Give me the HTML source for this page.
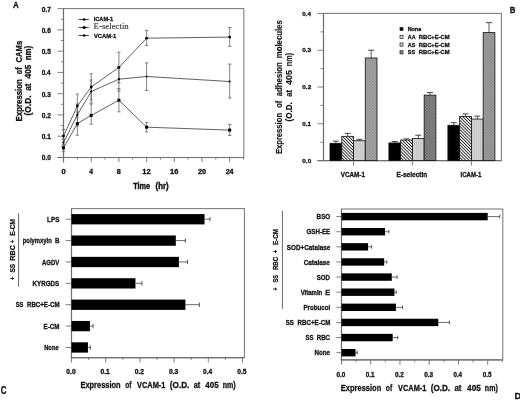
<!DOCTYPE html>
<html><head><meta charset="utf-8"><style>
html,body{margin:0;padding:0;background:#fff;}
body{width:520px;height:400px;overflow:hidden;}
svg{display:block;will-change:transform;}
</style></head><body>
<svg width="520" height="400" viewBox="0 0 520 400">
<g>
<rect width="520" height="400" fill="#fff"/>
<defs>
<pattern id="hatch" patternUnits="userSpaceOnUse" width="2.2" height="2.2" patternTransform="rotate(-45)">
<rect width="2.2" height="2.2" fill="#fff"/><rect width="0.9" height="2.2" fill="#222"/></pattern>
<pattern id="stip" patternUnits="userSpaceOnUse" width="2" height="2">
<rect width="2" height="2" fill="#d2d2d2"/><rect width="1" height="2" fill="#c8c8c8"/></pattern>
<pattern id="crossV" patternUnits="userSpaceOnUse" width="3" height="3">
<rect width="3" height="3" fill="#a2a2a2"/><rect width="1.5" height="1.5" fill="#939393"/><rect x="1.5" y="1.5" width="1.5" height="1.5" fill="#979797"/></pattern>
<pattern id="crossE" patternUnits="userSpaceOnUse" width="3" height="3">
<rect width="3" height="3" fill="#848484"/><rect width="1.5" height="1.5" fill="#6c6c6c"/><rect x="1.5" y="1.5" width="1.5" height="1.5" fill="#747474"/></pattern>
<pattern id="crossI" patternUnits="userSpaceOnUse" width="3" height="3">
<rect width="3" height="3" fill="#9e9e9e"/><rect width="1.5" height="1.5" fill="#888"/><rect x="1.5" y="1.5" width="1.5" height="1.5" fill="#8e8e8e"/></pattern>
</defs>
<text x="12.90" y="7.60" font-family="'Liberation Sans', sans-serif" font-size="9.6" font-weight="bold" fill="#141414" stroke="#141414" stroke-width="0.3" textLength="5.71" lengthAdjust="spacingAndGlyphs">A</text>
<rect x="63.5" y="8.6" width="180.3" height="148.9" fill="none" stroke="#7a7a7a" stroke-width="1.05"/>
<line x1="63.50" y1="8.60" x2="63.50" y2="162.50" stroke="#707070" stroke-width="1.2"/>
<line x1="57.60" y1="157.50" x2="243.80" y2="157.50" stroke="#707070" stroke-width="1.2"/>
<line x1="57.60" y1="157.50" x2="63.50" y2="157.50" stroke="#707070" stroke-width="0.9"/>
<text x="41.74" y="160.40" font-family="'Liberation Sans', sans-serif" font-size="6.4" font-weight="bold" fill="#141414" stroke="#141414" stroke-width="0.3" textLength="9.13" lengthAdjust="spacingAndGlyphs">0.0</text>
<line x1="57.60" y1="136.23" x2="63.50" y2="136.23" stroke="#707070" stroke-width="0.9"/>
<text x="41.74" y="139.13" font-family="'Liberation Sans', sans-serif" font-size="6.4" font-weight="bold" fill="#141414" stroke="#141414" stroke-width="0.3" textLength="9.02" lengthAdjust="spacingAndGlyphs">0.1</text>
<line x1="57.60" y1="114.96" x2="63.50" y2="114.96" stroke="#707070" stroke-width="0.9"/>
<text x="41.74" y="117.86" font-family="'Liberation Sans', sans-serif" font-size="6.4" font-weight="bold" fill="#141414" stroke="#141414" stroke-width="0.3" textLength="9.13" lengthAdjust="spacingAndGlyphs">0.2</text>
<line x1="57.60" y1="93.69" x2="63.50" y2="93.69" stroke="#707070" stroke-width="0.9"/>
<text x="41.74" y="96.59" font-family="'Liberation Sans', sans-serif" font-size="6.4" font-weight="bold" fill="#141414" stroke="#141414" stroke-width="0.3" textLength="9.09" lengthAdjust="spacingAndGlyphs">0.3</text>
<line x1="57.60" y1="72.42" x2="63.50" y2="72.42" stroke="#707070" stroke-width="0.9"/>
<text x="41.74" y="75.32" font-family="'Liberation Sans', sans-serif" font-size="6.4" font-weight="bold" fill="#141414" stroke="#141414" stroke-width="0.3" textLength="8.89" lengthAdjust="spacingAndGlyphs">0.4</text>
<line x1="57.60" y1="51.15" x2="63.50" y2="51.15" stroke="#707070" stroke-width="0.9"/>
<text x="41.74" y="54.05" font-family="'Liberation Sans', sans-serif" font-size="6.4" font-weight="bold" fill="#141414" stroke="#141414" stroke-width="0.3" textLength="9.02" lengthAdjust="spacingAndGlyphs">0.5</text>
<line x1="57.60" y1="29.88" x2="63.50" y2="29.88" stroke="#707070" stroke-width="0.9"/>
<text x="41.74" y="32.78" font-family="'Liberation Sans', sans-serif" font-size="6.4" font-weight="bold" fill="#141414" stroke="#141414" stroke-width="0.3" textLength="9.09" lengthAdjust="spacingAndGlyphs">0.6</text>
<line x1="57.60" y1="8.61" x2="63.50" y2="8.61" stroke="#707070" stroke-width="0.9"/>
<text x="41.74" y="11.51" font-family="'Liberation Sans', sans-serif" font-size="6.4" font-weight="bold" fill="#141414" stroke="#141414" stroke-width="0.3" textLength="9.16" lengthAdjust="spacingAndGlyphs">0.7</text>
<line x1="60.80" y1="146.87" x2="63.50" y2="146.87" stroke="#707070" stroke-width="0.8"/>
<line x1="60.80" y1="125.59" x2="63.50" y2="125.59" stroke="#707070" stroke-width="0.8"/>
<line x1="60.80" y1="104.33" x2="63.50" y2="104.33" stroke="#707070" stroke-width="0.8"/>
<line x1="60.80" y1="83.06" x2="63.50" y2="83.06" stroke="#707070" stroke-width="0.8"/>
<line x1="60.80" y1="61.78" x2="63.50" y2="61.78" stroke="#707070" stroke-width="0.8"/>
<line x1="60.80" y1="40.52" x2="63.50" y2="40.52" stroke="#707070" stroke-width="0.8"/>
<line x1="60.80" y1="19.25" x2="63.50" y2="19.25" stroke="#707070" stroke-width="0.8"/>
<line x1="63.50" y1="157.50" x2="63.50" y2="162.10" stroke="#707070" stroke-width="0.9"/>
<text x="61.40" y="174.00" font-family="'Liberation Sans', sans-serif" font-size="6.6" font-weight="bold" fill="#141414" stroke="#141414" stroke-width="0.3" textLength="4.22" lengthAdjust="spacingAndGlyphs">0</text>
<line x1="77.35" y1="157.50" x2="77.35" y2="159.70" stroke="#707070" stroke-width="0.8"/>
<line x1="91.20" y1="157.50" x2="91.20" y2="162.10" stroke="#707070" stroke-width="0.9"/>
<text x="89.30" y="174.00" font-family="'Liberation Sans', sans-serif" font-size="6.6" font-weight="bold" fill="#141414" stroke="#141414" stroke-width="0.3" textLength="3.74" lengthAdjust="spacingAndGlyphs">4</text>
<line x1="105.05" y1="157.50" x2="105.05" y2="159.70" stroke="#707070" stroke-width="0.8"/>
<line x1="118.90" y1="157.50" x2="118.90" y2="162.10" stroke="#707070" stroke-width="0.9"/>
<text x="116.88" y="174.00" font-family="'Liberation Sans', sans-serif" font-size="6.6" font-weight="bold" fill="#141414" stroke="#141414" stroke-width="0.3" textLength="4.04" lengthAdjust="spacingAndGlyphs">8</text>
<line x1="132.75" y1="157.50" x2="132.75" y2="159.70" stroke="#707070" stroke-width="0.8"/>
<line x1="146.60" y1="157.50" x2="146.60" y2="162.10" stroke="#707070" stroke-width="0.9"/>
<text x="142.31" y="174.00" font-family="'Liberation Sans', sans-serif" font-size="6.6" font-weight="bold" fill="#141414" stroke="#141414" stroke-width="0.3" textLength="8.41" lengthAdjust="spacingAndGlyphs">12</text>
<line x1="160.45" y1="157.50" x2="160.45" y2="159.70" stroke="#707070" stroke-width="0.8"/>
<line x1="174.30" y1="157.50" x2="174.30" y2="162.10" stroke="#707070" stroke-width="0.9"/>
<text x="170.01" y="174.00" font-family="'Liberation Sans', sans-serif" font-size="6.6" font-weight="bold" fill="#141414" stroke="#141414" stroke-width="0.3" textLength="8.37" lengthAdjust="spacingAndGlyphs">16</text>
<line x1="188.15" y1="157.50" x2="188.15" y2="159.70" stroke="#707070" stroke-width="0.8"/>
<line x1="202.00" y1="157.50" x2="202.00" y2="162.10" stroke="#707070" stroke-width="0.9"/>
<text x="197.94" y="174.00" font-family="'Liberation Sans', sans-serif" font-size="6.6" font-weight="bold" fill="#141414" stroke="#141414" stroke-width="0.3" textLength="8.17" lengthAdjust="spacingAndGlyphs">20</text>
<line x1="215.85" y1="157.50" x2="215.85" y2="159.70" stroke="#707070" stroke-width="0.8"/>
<line x1="229.70" y1="157.50" x2="229.70" y2="162.10" stroke="#707070" stroke-width="0.9"/>
<text x="225.65" y="174.00" font-family="'Liberation Sans', sans-serif" font-size="6.6" font-weight="bold" fill="#141414" stroke="#141414" stroke-width="0.3" textLength="7.90" lengthAdjust="spacingAndGlyphs">24</text>
<line x1="243.55" y1="157.50" x2="243.55" y2="159.70" stroke="#707070" stroke-width="0.8"/>
<text x="133.13" y="188.60" font-family="'Liberation Sans', sans-serif" font-size="8.6" font-weight="bold" fill="#141414" stroke="#141414" stroke-width="0.42" textLength="16.94" lengthAdjust="spacingAndGlyphs">Time</text>
<text x="155.61" y="188.60" font-family="'Liberation Sans', sans-serif" font-size="8.6" font-weight="bold" fill="#141414" stroke="#141414" stroke-width="0.42" textLength="13.05" lengthAdjust="spacingAndGlyphs">(hr)</text>
<text transform="translate(21.60,121.41) rotate(-90)" font-family="'Liberation Sans', sans-serif" font-size="8.4" font-weight="bold" fill="#141414" stroke="#141414" stroke-width="0.3" textLength="42.29" lengthAdjust="spacingAndGlyphs">Expression</text>
<text transform="translate(21.60,74.19) rotate(-90)" font-family="'Liberation Sans', sans-serif" font-size="8.4" font-weight="bold" fill="#141414" stroke="#141414" stroke-width="0.3" textLength="6.78" lengthAdjust="spacingAndGlyphs">of</text>
<text transform="translate(21.60,62.51) rotate(-90)" font-family="'Liberation Sans', sans-serif" font-size="8.4" font-weight="bold" fill="#141414" stroke="#141414" stroke-width="0.3" textLength="21.64" lengthAdjust="spacingAndGlyphs">CAMs</text>
<text transform="translate(30.90,115.42) rotate(-90)" font-family="'Liberation Sans', sans-serif" font-size="8.4" font-weight="bold" fill="#141414" stroke="#141414" stroke-width="0.3" textLength="19.99" lengthAdjust="spacingAndGlyphs">(O.D.</text>
<text transform="translate(30.90,90.85) rotate(-90)" font-family="'Liberation Sans', sans-serif" font-size="8.4" font-weight="bold" fill="#141414" stroke="#141414" stroke-width="0.3" textLength="7.37" lengthAdjust="spacingAndGlyphs">at</text>
<text transform="translate(30.90,78.42) rotate(-90)" font-family="'Liberation Sans', sans-serif" font-size="8.4" font-weight="bold" fill="#141414" stroke="#141414" stroke-width="0.3" textLength="13.66" lengthAdjust="spacingAndGlyphs">405</text>
<text transform="translate(30.90,60.31) rotate(-90)" font-family="'Liberation Sans', sans-serif" font-size="8.4" font-weight="bold" fill="#141414" stroke="#141414" stroke-width="0.3" textLength="14.49" lengthAdjust="spacingAndGlyphs">nm)</text>
<line x1="63.50" y1="129.50" x2="63.50" y2="139.00" stroke="#666" stroke-width="0.8"/>
<line x1="61.80" y1="129.50" x2="65.20" y2="129.50" stroke="#666" stroke-width="0.8"/>
<line x1="61.80" y1="139.00" x2="65.20" y2="139.00" stroke="#666" stroke-width="0.8"/>
<line x1="77.35" y1="94.20" x2="77.35" y2="117.00" stroke="#666" stroke-width="0.8"/>
<line x1="75.65" y1="94.20" x2="79.05" y2="94.20" stroke="#666" stroke-width="0.8"/>
<line x1="75.65" y1="117.00" x2="79.05" y2="117.00" stroke="#666" stroke-width="0.8"/>
<line x1="91.20" y1="73.80" x2="91.20" y2="100.00" stroke="#666" stroke-width="0.8"/>
<line x1="89.50" y1="73.80" x2="92.90" y2="73.80" stroke="#666" stroke-width="0.8"/>
<line x1="89.50" y1="100.00" x2="92.90" y2="100.00" stroke="#666" stroke-width="0.8"/>
<line x1="118.90" y1="52.20" x2="118.90" y2="83.00" stroke="#666" stroke-width="0.8"/>
<line x1="117.20" y1="52.20" x2="120.60" y2="52.20" stroke="#666" stroke-width="0.8"/>
<line x1="117.20" y1="83.00" x2="120.60" y2="83.00" stroke="#666" stroke-width="0.8"/>
<line x1="146.60" y1="30.50" x2="146.60" y2="45.50" stroke="#666" stroke-width="0.8"/>
<line x1="144.90" y1="30.50" x2="148.30" y2="30.50" stroke="#666" stroke-width="0.8"/>
<line x1="144.90" y1="45.50" x2="148.30" y2="45.50" stroke="#666" stroke-width="0.8"/>
<line x1="229.70" y1="27.50" x2="229.70" y2="46.40" stroke="#666" stroke-width="0.8"/>
<line x1="228.00" y1="27.50" x2="231.40" y2="27.50" stroke="#666" stroke-width="0.8"/>
<line x1="228.00" y1="46.40" x2="231.40" y2="46.40" stroke="#666" stroke-width="0.8"/>
<line x1="63.50" y1="139.50" x2="63.50" y2="146.00" stroke="#666" stroke-width="0.8"/>
<line x1="61.80" y1="139.50" x2="65.20" y2="139.50" stroke="#666" stroke-width="0.8"/>
<line x1="61.80" y1="146.00" x2="65.20" y2="146.00" stroke="#666" stroke-width="0.8"/>
<line x1="77.35" y1="104.00" x2="77.35" y2="126.00" stroke="#666" stroke-width="0.8"/>
<line x1="75.65" y1="104.00" x2="79.05" y2="104.00" stroke="#666" stroke-width="0.8"/>
<line x1="75.65" y1="126.00" x2="79.05" y2="126.00" stroke="#666" stroke-width="0.8"/>
<line x1="91.20" y1="80.00" x2="91.20" y2="103.00" stroke="#666" stroke-width="0.8"/>
<line x1="89.50" y1="80.00" x2="92.90" y2="80.00" stroke="#666" stroke-width="0.8"/>
<line x1="89.50" y1="103.00" x2="92.90" y2="103.00" stroke="#666" stroke-width="0.8"/>
<line x1="118.90" y1="67.00" x2="118.90" y2="91.00" stroke="#666" stroke-width="0.8"/>
<line x1="117.20" y1="67.00" x2="120.60" y2="67.00" stroke="#666" stroke-width="0.8"/>
<line x1="117.20" y1="91.00" x2="120.60" y2="91.00" stroke="#666" stroke-width="0.8"/>
<line x1="146.60" y1="62.90" x2="146.60" y2="90.50" stroke="#666" stroke-width="0.8"/>
<line x1="144.90" y1="62.90" x2="148.30" y2="62.90" stroke="#666" stroke-width="0.8"/>
<line x1="144.90" y1="90.50" x2="148.30" y2="90.50" stroke="#666" stroke-width="0.8"/>
<line x1="229.70" y1="64.10" x2="229.70" y2="98.00" stroke="#666" stroke-width="0.8"/>
<line x1="228.00" y1="64.10" x2="231.40" y2="64.10" stroke="#666" stroke-width="0.8"/>
<line x1="228.00" y1="98.00" x2="231.40" y2="98.00" stroke="#666" stroke-width="0.8"/>
<line x1="63.50" y1="144.50" x2="63.50" y2="151.70" stroke="#666" stroke-width="0.8"/>
<line x1="61.80" y1="144.50" x2="65.20" y2="144.50" stroke="#666" stroke-width="0.8"/>
<line x1="61.80" y1="151.70" x2="65.20" y2="151.70" stroke="#666" stroke-width="0.8"/>
<line x1="77.35" y1="112.00" x2="77.35" y2="135.20" stroke="#666" stroke-width="0.8"/>
<line x1="75.65" y1="112.00" x2="79.05" y2="112.00" stroke="#666" stroke-width="0.8"/>
<line x1="75.65" y1="135.20" x2="79.05" y2="135.20" stroke="#666" stroke-width="0.8"/>
<line x1="91.20" y1="104.00" x2="91.20" y2="124.20" stroke="#666" stroke-width="0.8"/>
<line x1="89.50" y1="104.00" x2="92.90" y2="104.00" stroke="#666" stroke-width="0.8"/>
<line x1="89.50" y1="124.20" x2="92.90" y2="124.20" stroke="#666" stroke-width="0.8"/>
<line x1="118.90" y1="88.50" x2="118.90" y2="111.80" stroke="#666" stroke-width="0.8"/>
<line x1="117.20" y1="88.50" x2="120.60" y2="88.50" stroke="#666" stroke-width="0.8"/>
<line x1="117.20" y1="111.80" x2="120.60" y2="111.80" stroke="#666" stroke-width="0.8"/>
<line x1="146.60" y1="122.60" x2="146.60" y2="132.00" stroke="#666" stroke-width="0.8"/>
<line x1="144.90" y1="122.60" x2="148.30" y2="122.60" stroke="#666" stroke-width="0.8"/>
<line x1="144.90" y1="132.00" x2="148.30" y2="132.00" stroke="#666" stroke-width="0.8"/>
<line x1="229.70" y1="124.40" x2="229.70" y2="135.50" stroke="#666" stroke-width="0.8"/>
<line x1="228.00" y1="124.40" x2="231.40" y2="124.40" stroke="#666" stroke-width="0.8"/>
<line x1="228.00" y1="135.50" x2="231.40" y2="135.50" stroke="#666" stroke-width="0.8"/>
<polyline points="63.50,136.00 77.35,106.00 91.20,87.00 118.90,67.40 146.60,38.20 229.70,37.10" fill="none" stroke="#444" stroke-width="0.85"/>
<polyline points="63.50,142.60 77.35,114.80 91.20,91.60 118.90,79.20 146.60,76.50 229.70,81.50" fill="none" stroke="#444" stroke-width="0.85"/>
<polyline points="63.50,147.90 77.35,123.70 91.20,115.40 118.90,100.20 146.60,127.20 229.70,130.10" fill="none" stroke="#444" stroke-width="0.85"/>
<circle cx="63.50" cy="136.00" r="1.4" fill="#000"/>
<circle cx="77.35" cy="106.00" r="1.4" fill="#000"/>
<circle cx="91.20" cy="87.00" r="1.4" fill="#000"/>
<circle cx="118.90" cy="67.40" r="1.4" fill="#000"/>
<circle cx="146.60" cy="38.20" r="1.4" fill="#000"/>
<circle cx="229.70" cy="37.10" r="1.4" fill="#000"/>
<circle cx="63.50" cy="142.60" r="1.1" fill="#000"/>
<circle cx="77.35" cy="114.80" r="1.1" fill="#000"/>
<circle cx="91.20" cy="91.60" r="1.1" fill="#000"/>
<circle cx="118.90" cy="79.20" r="1.1" fill="#000"/>
<circle cx="146.60" cy="76.50" r="1.1" fill="#000"/>
<circle cx="229.70" cy="81.50" r="1.1" fill="#000"/>
<rect x="62.00" y="146.40" width="3.00" height="3.00" fill="#000"/>
<rect x="75.85" y="122.20" width="3.00" height="3.00" fill="#000"/>
<rect x="89.70" y="113.90" width="3.00" height="3.00" fill="#000"/>
<rect x="117.40" y="98.70" width="3.00" height="3.00" fill="#000"/>
<rect x="145.10" y="125.70" width="3.00" height="3.00" fill="#000"/>
<rect x="228.20" y="128.60" width="3.00" height="3.00" fill="#000"/>
<line x1="78.50" y1="19.50" x2="88.80" y2="19.50" stroke="#333" stroke-width="0.9"/>
<circle cx="84.2" cy="19.5" r="1.35" fill="#000"/>
<line x1="78.50" y1="27.50" x2="88.80" y2="27.50" stroke="#333" stroke-width="0.9"/>
<circle cx="84.2" cy="27.5" r="1.6" fill="#000"/>
<line x1="78.50" y1="35.50" x2="88.80" y2="35.50" stroke="#333" stroke-width="0.9"/>
<circle cx="84.2" cy="35.5" r="1.3" fill="#000"/>
<text x="93.63" y="21.40" font-family="'Liberation Sans', sans-serif" font-size="6.0" font-weight="bold" fill="#141414" stroke="#141414" stroke-width="0.3" textLength="19.51" lengthAdjust="spacingAndGlyphs">ICAM-1</text>
<text x="93.64" y="28.90" font-family="'Liberation Serif', serif" font-size="8.0" font-weight="normal" fill="#3a3a3a" stroke="#3a3a3a" stroke-width="0.15" textLength="35.08" lengthAdjust="spacingAndGlyphs">E-selectin</text>
<text x="93.94" y="37.90" font-family="'Liberation Sans', sans-serif" font-size="6.0" font-weight="bold" fill="#141414" stroke="#141414" stroke-width="0.3" textLength="22.19" lengthAdjust="spacingAndGlyphs">VCAM-1</text>
<text x="509.69" y="13.00" font-family="'Liberation Sans', sans-serif" font-size="9.4" font-weight="bold" fill="#141414" stroke="#141414" stroke-width="0.3" textLength="5.68" lengthAdjust="spacingAndGlyphs">B</text>
<rect x="323.5" y="13.4" width="177.8" height="147.2" fill="none" stroke="#7a7a7a" stroke-width="1.05"/>
<line x1="323.50" y1="13.40" x2="323.50" y2="160.60" stroke="#707070" stroke-width="1.2"/>
<line x1="317.50" y1="160.60" x2="501.30" y2="160.60" stroke="#707070" stroke-width="1.2"/>
<line x1="317.50" y1="160.60" x2="323.50" y2="160.60" stroke="#707070" stroke-width="0.9"/>
<text x="302.35" y="162.80" font-family="'Liberation Sans', sans-serif" font-size="6.0" font-weight="bold" fill="#141414" stroke="#141414" stroke-width="0.3" textLength="8.81" lengthAdjust="spacingAndGlyphs">0.0</text>
<line x1="317.50" y1="123.82" x2="323.50" y2="123.82" stroke="#707070" stroke-width="0.9"/>
<text x="302.35" y="126.02" font-family="'Liberation Sans', sans-serif" font-size="6.0" font-weight="bold" fill="#141414" stroke="#141414" stroke-width="0.3" textLength="8.71" lengthAdjust="spacingAndGlyphs">0.1</text>
<line x1="317.50" y1="87.04" x2="323.50" y2="87.04" stroke="#707070" stroke-width="0.9"/>
<text x="302.35" y="89.24" font-family="'Liberation Sans', sans-serif" font-size="6.0" font-weight="bold" fill="#141414" stroke="#141414" stroke-width="0.3" textLength="8.81" lengthAdjust="spacingAndGlyphs">0.2</text>
<line x1="317.50" y1="50.26" x2="323.50" y2="50.26" stroke="#707070" stroke-width="0.9"/>
<text x="302.35" y="52.46" font-family="'Liberation Sans', sans-serif" font-size="6.0" font-weight="bold" fill="#141414" stroke="#141414" stroke-width="0.3" textLength="8.77" lengthAdjust="spacingAndGlyphs">0.3</text>
<line x1="317.50" y1="13.48" x2="323.50" y2="13.48" stroke="#707070" stroke-width="0.9"/>
<text x="302.35" y="15.68" font-family="'Liberation Sans', sans-serif" font-size="6.0" font-weight="bold" fill="#141414" stroke="#141414" stroke-width="0.3" textLength="8.58" lengthAdjust="spacingAndGlyphs">0.4</text>
<line x1="320.40" y1="142.21" x2="323.50" y2="142.21" stroke="#707070" stroke-width="0.8"/>
<line x1="320.40" y1="105.43" x2="323.50" y2="105.43" stroke="#707070" stroke-width="0.8"/>
<line x1="320.40" y1="68.65" x2="323.50" y2="68.65" stroke="#707070" stroke-width="0.8"/>
<line x1="320.40" y1="31.87" x2="323.50" y2="31.87" stroke="#707070" stroke-width="0.8"/>
<text transform="translate(282.20,154.10) rotate(-90)" font-family="'Liberation Sans', sans-serif" font-size="8.2" font-weight="bold" fill="#141414" stroke="#141414" stroke-width="0.15" textLength="41.16" lengthAdjust="spacingAndGlyphs">Expression</text>
<text transform="translate(282.20,107.69) rotate(-90)" font-family="'Liberation Sans', sans-serif" font-size="8.2" font-weight="bold" fill="#141414" stroke="#141414" stroke-width="0.15" textLength="6.88" lengthAdjust="spacingAndGlyphs">of</text>
<text transform="translate(282.20,96.23) rotate(-90)" font-family="'Liberation Sans', sans-serif" font-size="8.2" font-weight="bold" fill="#141414" stroke="#141414" stroke-width="0.15" textLength="34.10" lengthAdjust="spacingAndGlyphs">adhesion</text>
<text transform="translate(282.20,58.20) rotate(-90)" font-family="'Liberation Sans', sans-serif" font-size="8.2" font-weight="bold" fill="#141414" stroke="#141414" stroke-width="0.15" textLength="37.92" lengthAdjust="spacingAndGlyphs">molecules</text>
<text transform="translate(291.60,121.40) rotate(-90)" font-family="'Liberation Sans', sans-serif" font-size="8.4" font-weight="bold" fill="#141414" stroke="#141414" stroke-width="0.15" textLength="19.15" lengthAdjust="spacingAndGlyphs">(O.D.</text>
<text transform="translate(291.60,96.63) rotate(-90)" font-family="'Liberation Sans', sans-serif" font-size="8.4" font-weight="bold" fill="#141414" stroke="#141414" stroke-width="0.15" textLength="6.73" lengthAdjust="spacingAndGlyphs">at</text>
<text transform="translate(291.60,84.93) rotate(-90)" font-family="'Liberation Sans', sans-serif" font-size="8.4" font-weight="bold" fill="#141414" stroke="#141414" stroke-width="0.15" textLength="14.79" lengthAdjust="spacingAndGlyphs">405</text>
<text transform="translate(291.60,66.17) rotate(-90)" font-family="'Liberation Sans', sans-serif" font-size="8.4" font-weight="bold" fill="#141414" stroke="#141414" stroke-width="0.15" textLength="13.32" lengthAdjust="spacingAndGlyphs">nm)</text>
<line x1="335.88" y1="141.11" x2="335.88" y2="143.31" stroke="#333" stroke-width="0.8"/>
<line x1="332.88" y1="141.11" x2="338.88" y2="141.11" stroke="#333" stroke-width="0.9"/>
<rect x="330.00" y="143.31" width="11.75" height="17.29" fill="#000" stroke="#111" stroke-width="0.8"/>
<line x1="347.62" y1="133.38" x2="347.62" y2="136.33" stroke="#333" stroke-width="0.8"/>
<line x1="344.62" y1="133.38" x2="350.62" y2="133.38" stroke="#333" stroke-width="0.9"/>
<rect x="341.75" y="136.33" width="11.75" height="24.27" fill="url(#hatch)" stroke="#111" stroke-width="0.8"/>
<line x1="359.38" y1="139.27" x2="359.38" y2="140.74" stroke="#333" stroke-width="0.8"/>
<line x1="356.38" y1="139.27" x2="362.38" y2="139.27" stroke="#333" stroke-width="0.9"/>
<rect x="353.50" y="140.74" width="11.75" height="19.86" fill="url(#stip)" stroke="#111" stroke-width="0.8"/>
<line x1="371.12" y1="50.26" x2="371.12" y2="57.98" stroke="#333" stroke-width="0.8"/>
<line x1="368.12" y1="50.26" x2="374.12" y2="50.26" stroke="#333" stroke-width="0.9"/>
<rect x="365.25" y="57.98" width="11.75" height="102.62" fill="url(#crossV)" stroke="#111" stroke-width="0.8"/>
<line x1="353.50" y1="160.60" x2="353.50" y2="165.60" stroke="#707070" stroke-width="0.9"/>
<line x1="394.77" y1="141.47" x2="394.77" y2="142.95" stroke="#333" stroke-width="0.8"/>
<line x1="391.77" y1="141.47" x2="397.77" y2="141.47" stroke="#333" stroke-width="0.9"/>
<rect x="388.90" y="142.95" width="11.75" height="17.65" fill="#000" stroke="#111" stroke-width="0.8"/>
<line x1="406.52" y1="138.90" x2="406.52" y2="140.00" stroke="#333" stroke-width="0.8"/>
<line x1="403.52" y1="138.90" x2="409.52" y2="138.90" stroke="#333" stroke-width="0.9"/>
<rect x="400.65" y="140.00" width="11.75" height="20.60" fill="url(#hatch)" stroke="#111" stroke-width="0.8"/>
<line x1="418.27" y1="135.22" x2="418.27" y2="138.53" stroke="#333" stroke-width="0.8"/>
<line x1="415.27" y1="135.22" x2="421.27" y2="135.22" stroke="#333" stroke-width="0.9"/>
<rect x="412.40" y="138.53" width="11.75" height="22.07" fill="url(#stip)" stroke="#111" stroke-width="0.8"/>
<line x1="430.02" y1="92.56" x2="430.02" y2="95.13" stroke="#333" stroke-width="0.8"/>
<line x1="427.02" y1="92.56" x2="433.02" y2="92.56" stroke="#333" stroke-width="0.9"/>
<rect x="424.15" y="95.13" width="11.75" height="65.47" fill="url(#crossE)" stroke="#111" stroke-width="0.8"/>
<line x1="412.40" y1="160.60" x2="412.40" y2="165.60" stroke="#707070" stroke-width="0.9"/>
<line x1="453.77" y1="122.72" x2="453.77" y2="125.29" stroke="#333" stroke-width="0.8"/>
<line x1="450.77" y1="122.72" x2="456.77" y2="122.72" stroke="#333" stroke-width="0.9"/>
<rect x="447.90" y="125.29" width="11.75" height="35.31" fill="#000" stroke="#111" stroke-width="0.8"/>
<line x1="465.52" y1="113.89" x2="465.52" y2="116.46" stroke="#333" stroke-width="0.8"/>
<line x1="462.52" y1="113.89" x2="468.52" y2="113.89" stroke="#333" stroke-width="0.9"/>
<rect x="459.65" y="116.46" width="11.75" height="44.14" fill="url(#hatch)" stroke="#111" stroke-width="0.8"/>
<line x1="477.27" y1="116.10" x2="477.27" y2="119.04" stroke="#333" stroke-width="0.8"/>
<line x1="474.27" y1="116.10" x2="480.27" y2="116.10" stroke="#333" stroke-width="0.9"/>
<rect x="471.40" y="119.04" width="11.75" height="41.56" fill="url(#stip)" stroke="#111" stroke-width="0.8"/>
<line x1="489.02" y1="22.67" x2="489.02" y2="32.61" stroke="#333" stroke-width="0.8"/>
<line x1="486.02" y1="22.67" x2="492.02" y2="22.67" stroke="#333" stroke-width="0.9"/>
<rect x="483.15" y="32.61" width="11.75" height="127.99" fill="url(#crossI)" stroke="#111" stroke-width="0.8"/>
<line x1="471.40" y1="160.60" x2="471.40" y2="165.60" stroke="#707070" stroke-width="0.9"/>
<text x="340.84" y="177.00" font-family="'Liberation Sans', sans-serif" font-size="6.8" font-weight="bold" fill="#141414" stroke="#141414" stroke-width="0.3" textLength="24.11" lengthAdjust="spacingAndGlyphs">VCAM-1</text>
<text x="396.48" y="177.00" font-family="'Liberation Sans', sans-serif" font-size="6.8" font-weight="bold" fill="#141414" stroke="#141414" stroke-width="0.3" textLength="30.81" lengthAdjust="spacingAndGlyphs">E-selectin</text>
<text x="460.51" y="177.00" font-family="'Liberation Sans', sans-serif" font-size="6.8" font-weight="bold" fill="#141414" stroke="#141414" stroke-width="0.3" textLength="20.84" lengthAdjust="spacingAndGlyphs">ICAM-1</text>
<rect x="400.0" y="27.40" width="3.0" height="3.2" fill="#000" stroke="#222" stroke-width="0.7"/>
<rect x="400.0" y="35.30" width="3.0" height="3.2" fill="#e0e0e0" stroke="#222" stroke-width="0.7"/>
<rect x="400.0" y="43.00" width="3.0" height="3.2" fill="#d0d0d0" stroke="#222" stroke-width="0.7"/>
<rect x="400.0" y="50.70" width="3.0" height="3.2" fill="#8a8a8a" stroke="#222" stroke-width="0.7"/>
<text x="407.65" y="30.90" font-family="'Liberation Sans', sans-serif" font-size="5.8" font-weight="bold" fill="#141414" stroke="#141414" stroke-width="0.3" textLength="13.54" lengthAdjust="spacingAndGlyphs">None</text>
<text x="407.87" y="38.80" font-family="'Liberation Sans', sans-serif" font-size="5.8" font-weight="bold" fill="#141414" stroke="#141414" stroke-width="0.3" textLength="7.69" lengthAdjust="spacingAndGlyphs">AA</text>
<text x="418.72" y="38.80" font-family="'Liberation Sans', sans-serif" font-size="5.8" font-weight="bold" fill="#141414" stroke="#141414" stroke-width="0.3" textLength="30.96" lengthAdjust="spacingAndGlyphs">RBC+E-CM</text>
<text x="407.86" y="46.50" font-family="'Liberation Sans', sans-serif" font-size="5.8" font-weight="bold" fill="#141414" stroke="#141414" stroke-width="0.3" textLength="7.55" lengthAdjust="spacingAndGlyphs">AS</text>
<text x="418.72" y="46.50" font-family="'Liberation Sans', sans-serif" font-size="5.8" font-weight="bold" fill="#141414" stroke="#141414" stroke-width="0.3" textLength="30.96" lengthAdjust="spacingAndGlyphs">RBC+E-CM</text>
<text x="407.84" y="54.10" font-family="'Liberation Sans', sans-serif" font-size="5.8" font-weight="bold" fill="#141414" stroke="#141414" stroke-width="0.3" textLength="7.17" lengthAdjust="spacingAndGlyphs">SS</text>
<text x="418.72" y="54.10" font-family="'Liberation Sans', sans-serif" font-size="5.8" font-weight="bold" fill="#141414" stroke="#141414" stroke-width="0.3" textLength="30.96" lengthAdjust="spacingAndGlyphs">RBC+E-CM</text>
<text x="0.68" y="393.70" font-family="'Liberation Sans', sans-serif" font-size="10.2" font-weight="bold" fill="#141414" stroke="#141414" stroke-width="0.3" textLength="5.73" lengthAdjust="spacingAndGlyphs">C</text>
<rect x="71.5" y="208.6" width="172.9" height="149.1" fill="none" stroke="#7a7a7a" stroke-width="1.05"/>
<line x1="71.50" y1="208.60" x2="71.50" y2="357.70" stroke="#707070" stroke-width="1.2"/>
<line x1="70.60" y1="357.70" x2="244.40" y2="357.70" stroke="#707070" stroke-width="1.2"/>
<line x1="71.50" y1="357.70" x2="71.50" y2="362.50" stroke="#707070" stroke-width="0.9"/>
<text x="66.33" y="374.00" font-family="'Liberation Sans', sans-serif" font-size="6.4" font-weight="bold" fill="#141414" stroke="#141414" stroke-width="0.3" textLength="9.34" lengthAdjust="spacingAndGlyphs">0.0</text>
<line x1="105.70" y1="357.70" x2="105.70" y2="362.50" stroke="#707070" stroke-width="0.9"/>
<text x="100.53" y="374.00" font-family="'Liberation Sans', sans-serif" font-size="6.4" font-weight="bold" fill="#141414" stroke="#141414" stroke-width="0.3" textLength="9.23" lengthAdjust="spacingAndGlyphs">0.1</text>
<line x1="139.90" y1="357.70" x2="139.90" y2="362.50" stroke="#707070" stroke-width="0.9"/>
<text x="134.73" y="374.00" font-family="'Liberation Sans', sans-serif" font-size="6.4" font-weight="bold" fill="#141414" stroke="#141414" stroke-width="0.3" textLength="9.34" lengthAdjust="spacingAndGlyphs">0.2</text>
<line x1="174.10" y1="357.70" x2="174.10" y2="362.50" stroke="#707070" stroke-width="0.9"/>
<text x="168.93" y="374.00" font-family="'Liberation Sans', sans-serif" font-size="6.4" font-weight="bold" fill="#141414" stroke="#141414" stroke-width="0.3" textLength="9.30" lengthAdjust="spacingAndGlyphs">0.3</text>
<line x1="208.30" y1="357.70" x2="208.30" y2="362.50" stroke="#707070" stroke-width="0.9"/>
<text x="203.14" y="374.00" font-family="'Liberation Sans', sans-serif" font-size="6.4" font-weight="bold" fill="#141414" stroke="#141414" stroke-width="0.3" textLength="9.10" lengthAdjust="spacingAndGlyphs">0.4</text>
<line x1="242.50" y1="357.70" x2="242.50" y2="362.50" stroke="#707070" stroke-width="0.9"/>
<text x="237.33" y="374.00" font-family="'Liberation Sans', sans-serif" font-size="6.4" font-weight="bold" fill="#141414" stroke="#141414" stroke-width="0.3" textLength="9.23" lengthAdjust="spacingAndGlyphs">0.5</text>
<line x1="88.60" y1="357.70" x2="88.60" y2="360.10" stroke="#707070" stroke-width="0.8"/>
<line x1="122.80" y1="357.70" x2="122.80" y2="360.10" stroke="#707070" stroke-width="0.8"/>
<line x1="157.00" y1="357.70" x2="157.00" y2="360.10" stroke="#707070" stroke-width="0.8"/>
<line x1="191.20" y1="357.70" x2="191.20" y2="360.10" stroke="#707070" stroke-width="0.8"/>
<line x1="225.40" y1="357.70" x2="225.40" y2="360.10" stroke="#707070" stroke-width="0.8"/>
<text x="80.41" y="388.20" font-family="'Liberation Sans', sans-serif" font-size="9.0" font-weight="bold" fill="#141414" stroke="#141414" stroke-width="0.3" textLength="40.24" lengthAdjust="spacingAndGlyphs">Expression</text>
<text x="125.24" y="388.20" font-family="'Liberation Sans', sans-serif" font-size="9.0" font-weight="bold" fill="#141414" stroke="#141414" stroke-width="0.3" textLength="6.15" lengthAdjust="spacingAndGlyphs">of</text>
<text x="136.93" y="388.20" font-family="'Liberation Sans', sans-serif" font-size="9.0" font-weight="bold" fill="#141414" stroke="#141414" stroke-width="0.3" textLength="28.55" lengthAdjust="spacingAndGlyphs">VCAM-1</text>
<text x="169.79" y="388.20" font-family="'Liberation Sans', sans-serif" font-size="9.0" font-weight="bold" fill="#141414" stroke="#141414" stroke-width="0.3" textLength="19.57" lengthAdjust="spacingAndGlyphs">(O.D.</text>
<text x="193.68" y="388.20" font-family="'Liberation Sans', sans-serif" font-size="9.0" font-weight="bold" fill="#141414" stroke="#141414" stroke-width="0.3" textLength="6.63" lengthAdjust="spacingAndGlyphs">at</text>
<text x="205.28" y="388.20" font-family="'Liberation Sans', sans-serif" font-size="9.0" font-weight="bold" fill="#141414" stroke="#141414" stroke-width="0.3" textLength="13.35" lengthAdjust="spacingAndGlyphs">405</text>
<text x="222.74" y="388.20" font-family="'Liberation Sans', sans-serif" font-size="9.0" font-weight="bold" fill="#141414" stroke="#141414" stroke-width="0.3" textLength="12.90" lengthAdjust="spacingAndGlyphs">nm)</text>
<line x1="65.60" y1="219.20" x2="71.50" y2="219.20" stroke="#707070" stroke-width="0.9"/>
<text x="47.09" y="221.80" font-family="'Liberation Sans', sans-serif" font-size="7.0" font-weight="bold" fill="#141414" stroke="#141414" stroke-width="0.3" textLength="12.33" lengthAdjust="spacingAndGlyphs">LPS</text>
<line x1="204.54" y1="219.20" x2="210.01" y2="219.20" stroke="#444" stroke-width="0.8"/>
<line x1="210.01" y1="217.00" x2="210.01" y2="221.40" stroke="#444" stroke-width="0.9"/>
<rect x="71.50" y="214.10" width="133.04" height="10.3" fill="#000"/>
<line x1="65.60" y1="240.57" x2="71.50" y2="240.57" stroke="#707070" stroke-width="0.9"/>
<text x="22.72" y="243.17" font-family="'Liberation Sans', sans-serif" font-size="7.0" font-weight="bold" fill="#141414" stroke="#141414" stroke-width="0.3" textLength="29.04" lengthAdjust="spacingAndGlyphs">polymxyin</text>
<text x="54.90" y="243.17" font-family="'Liberation Sans', sans-serif" font-size="7.0" font-weight="bold" fill="#141414" stroke="#141414" stroke-width="0.3" textLength="4.50" lengthAdjust="spacingAndGlyphs">B</text>
<line x1="175.81" y1="240.57" x2="185.39" y2="240.57" stroke="#444" stroke-width="0.8"/>
<line x1="185.39" y1="238.37" x2="185.39" y2="242.77" stroke="#444" stroke-width="0.9"/>
<rect x="71.50" y="235.47" width="104.31" height="10.3" fill="#000"/>
<line x1="65.60" y1="261.94" x2="71.50" y2="261.94" stroke="#707070" stroke-width="0.9"/>
<text x="42.05" y="264.54" font-family="'Liberation Sans', sans-serif" font-size="7.0" font-weight="bold" fill="#141414" stroke="#141414" stroke-width="0.3" textLength="17.20" lengthAdjust="spacingAndGlyphs">AGDV</text>
<line x1="178.89" y1="261.94" x2="187.44" y2="261.94" stroke="#444" stroke-width="0.8"/>
<line x1="187.44" y1="259.74" x2="187.44" y2="264.14" stroke="#444" stroke-width="0.9"/>
<rect x="71.50" y="256.84" width="107.39" height="10.3" fill="#000"/>
<line x1="65.60" y1="283.31" x2="71.50" y2="283.31" stroke="#707070" stroke-width="0.9"/>
<text x="32.60" y="285.91" font-family="'Liberation Sans', sans-serif" font-size="7.0" font-weight="bold" fill="#141414" stroke="#141414" stroke-width="0.3" textLength="26.64" lengthAdjust="spacingAndGlyphs">KYRGDS</text>
<line x1="135.45" y1="283.31" x2="141.95" y2="283.31" stroke="#444" stroke-width="0.8"/>
<line x1="141.95" y1="281.11" x2="141.95" y2="285.51" stroke="#444" stroke-width="0.9"/>
<rect x="71.50" y="278.21" width="63.95" height="10.3" fill="#000"/>
<line x1="65.60" y1="304.68" x2="71.50" y2="304.68" stroke="#707070" stroke-width="0.9"/>
<text x="15.63" y="307.28" font-family="'Liberation Sans', sans-serif" font-size="7.0" font-weight="bold" fill="#141414" stroke="#141414" stroke-width="0.3" textLength="7.70" lengthAdjust="spacingAndGlyphs">SS</text>
<text x="27.00" y="307.28" font-family="'Liberation Sans', sans-serif" font-size="7.0" font-weight="bold" fill="#141414" stroke="#141414" stroke-width="0.3" textLength="32.50" lengthAdjust="spacingAndGlyphs">RBC+E-CM</text>
<line x1="185.39" y1="304.68" x2="199.41" y2="304.68" stroke="#444" stroke-width="0.8"/>
<line x1="199.41" y1="302.48" x2="199.41" y2="306.88" stroke="#444" stroke-width="0.9"/>
<rect x="71.50" y="299.58" width="113.89" height="10.3" fill="#000"/>
<line x1="65.60" y1="326.05" x2="71.50" y2="326.05" stroke="#707070" stroke-width="0.9"/>
<text x="43.60" y="328.65" font-family="'Liberation Sans', sans-serif" font-size="7.0" font-weight="bold" fill="#141414" stroke="#141414" stroke-width="0.3" textLength="15.84" lengthAdjust="spacingAndGlyphs">E-CM</text>
<line x1="89.97" y1="326.05" x2="93.05" y2="326.05" stroke="#444" stroke-width="0.8"/>
<line x1="93.05" y1="323.85" x2="93.05" y2="328.25" stroke="#444" stroke-width="0.9"/>
<rect x="71.50" y="320.95" width="18.47" height="10.3" fill="#000"/>
<line x1="65.60" y1="347.42" x2="71.50" y2="347.42" stroke="#707070" stroke-width="0.9"/>
<text x="44.23" y="350.02" font-family="'Liberation Sans', sans-serif" font-size="7.0" font-weight="bold" fill="#141414" stroke="#141414" stroke-width="0.3" textLength="14.38" lengthAdjust="spacingAndGlyphs">None</text>
<line x1="87.92" y1="347.42" x2="90.31" y2="347.42" stroke="#444" stroke-width="0.8"/>
<line x1="90.31" y1="345.22" x2="90.31" y2="349.62" stroke="#444" stroke-width="0.9"/>
<rect x="71.50" y="342.32" width="16.42" height="10.3" fill="#000"/>
<line x1="18.60" y1="213.20" x2="18.60" y2="286.60" stroke="#555" stroke-width="0.9"/>
<text transform="translate(14.90,279.93) rotate(-90)" font-family="'Liberation Sans', sans-serif" font-size="6.6" font-weight="bold" fill="#141414" stroke="#141414" stroke-width="0.25" textLength="3.35" lengthAdjust="spacingAndGlyphs">+</text>
<text transform="translate(14.90,272.49) rotate(-90)" font-family="'Liberation Sans', sans-serif" font-size="6.6" font-weight="bold" fill="#141414" stroke="#141414" stroke-width="0.25" textLength="8.54" lengthAdjust="spacingAndGlyphs">SS</text>
<text transform="translate(14.90,260.67) rotate(-90)" font-family="'Liberation Sans', sans-serif" font-size="6.6" font-weight="bold" fill="#141414" stroke="#141414" stroke-width="0.25" textLength="15.56" lengthAdjust="spacingAndGlyphs">RBC</text>
<text transform="translate(14.90,243.21) rotate(-90)" font-family="'Liberation Sans', sans-serif" font-size="6.6" font-weight="bold" fill="#141414" stroke="#141414" stroke-width="0.25" textLength="3.12" lengthAdjust="spacingAndGlyphs">+</text>
<text transform="translate(14.90,235.82) rotate(-90)" font-family="'Liberation Sans', sans-serif" font-size="6.6" font-weight="bold" fill="#141414" stroke="#141414" stroke-width="0.25" textLength="16.68" lengthAdjust="spacingAndGlyphs">E-CM</text>
<text x="514.41" y="398.70" font-family="'Liberation Sans', sans-serif" font-size="9.6" font-weight="bold" fill="#141414" stroke="#141414" stroke-width="0.3" textLength="6.58" lengthAdjust="spacingAndGlyphs">D</text>
<rect x="341.5" y="209.0" width="161.3" height="150.89999999999998" fill="none" stroke="#7a7a7a" stroke-width="1.05"/>
<line x1="341.50" y1="209.00" x2="341.50" y2="359.90" stroke="#707070" stroke-width="1.2"/>
<line x1="340.60" y1="359.90" x2="502.80" y2="359.90" stroke="#707070" stroke-width="1.2"/>
<line x1="341.50" y1="359.90" x2="341.50" y2="364.70" stroke="#707070" stroke-width="0.9"/>
<text x="336.44" y="377.30" font-family="'Liberation Sans', sans-serif" font-size="6.6" font-weight="bold" fill="#141414" stroke="#141414" stroke-width="0.3" textLength="8.91" lengthAdjust="spacingAndGlyphs">0.0</text>
<line x1="370.74" y1="359.90" x2="370.74" y2="364.70" stroke="#707070" stroke-width="0.9"/>
<text x="365.69" y="377.30" font-family="'Liberation Sans', sans-serif" font-size="6.6" font-weight="bold" fill="#141414" stroke="#141414" stroke-width="0.3" textLength="8.81" lengthAdjust="spacingAndGlyphs">0.1</text>
<line x1="399.98" y1="359.90" x2="399.98" y2="364.70" stroke="#707070" stroke-width="0.9"/>
<text x="394.92" y="377.30" font-family="'Liberation Sans', sans-serif" font-size="6.6" font-weight="bold" fill="#141414" stroke="#141414" stroke-width="0.3" textLength="8.91" lengthAdjust="spacingAndGlyphs">0.2</text>
<line x1="429.22" y1="359.90" x2="429.22" y2="364.70" stroke="#707070" stroke-width="0.9"/>
<text x="424.16" y="377.30" font-family="'Liberation Sans', sans-serif" font-size="6.6" font-weight="bold" fill="#141414" stroke="#141414" stroke-width="0.3" textLength="8.88" lengthAdjust="spacingAndGlyphs">0.3</text>
<line x1="458.46" y1="359.90" x2="458.46" y2="364.70" stroke="#707070" stroke-width="0.9"/>
<text x="453.41" y="377.30" font-family="'Liberation Sans', sans-serif" font-size="6.6" font-weight="bold" fill="#141414" stroke="#141414" stroke-width="0.3" textLength="8.68" lengthAdjust="spacingAndGlyphs">0.4</text>
<line x1="487.70" y1="359.90" x2="487.70" y2="364.70" stroke="#707070" stroke-width="0.9"/>
<text x="482.65" y="377.30" font-family="'Liberation Sans', sans-serif" font-size="6.6" font-weight="bold" fill="#141414" stroke="#141414" stroke-width="0.3" textLength="8.81" lengthAdjust="spacingAndGlyphs">0.5</text>
<line x1="356.12" y1="359.90" x2="356.12" y2="362.30" stroke="#707070" stroke-width="0.8"/>
<line x1="385.36" y1="359.90" x2="385.36" y2="362.30" stroke="#707070" stroke-width="0.8"/>
<line x1="414.60" y1="359.90" x2="414.60" y2="362.30" stroke="#707070" stroke-width="0.8"/>
<line x1="443.84" y1="359.90" x2="443.84" y2="362.30" stroke="#707070" stroke-width="0.8"/>
<line x1="473.08" y1="359.90" x2="473.08" y2="362.30" stroke="#707070" stroke-width="0.8"/>
<line x1="502.32" y1="359.90" x2="502.32" y2="362.30" stroke="#707070" stroke-width="0.8"/>
<text x="340.81" y="390.60" font-family="'Liberation Sans', sans-serif" font-size="9.0" font-weight="bold" fill="#141414" stroke="#141414" stroke-width="0.3" textLength="40.45" lengthAdjust="spacingAndGlyphs">Expression</text>
<text x="385.83" y="390.60" font-family="'Liberation Sans', sans-serif" font-size="9.0" font-weight="bold" fill="#141414" stroke="#141414" stroke-width="0.3" textLength="6.36" lengthAdjust="spacingAndGlyphs">of</text>
<text x="398.03" y="390.60" font-family="'Liberation Sans', sans-serif" font-size="9.0" font-weight="bold" fill="#141414" stroke="#141414" stroke-width="0.3" textLength="28.35" lengthAdjust="spacingAndGlyphs">VCAM-1</text>
<text x="430.69" y="390.60" font-family="'Liberation Sans', sans-serif" font-size="9.0" font-weight="bold" fill="#141414" stroke="#141414" stroke-width="0.3" textLength="19.36" lengthAdjust="spacingAndGlyphs">(O.D.</text>
<text x="454.46" y="390.60" font-family="'Liberation Sans', sans-serif" font-size="9.0" font-weight="bold" fill="#141414" stroke="#141414" stroke-width="0.3" textLength="7.05" lengthAdjust="spacingAndGlyphs">at</text>
<text x="467.08" y="390.60" font-family="'Liberation Sans', sans-serif" font-size="9.0" font-weight="bold" fill="#141414" stroke="#141414" stroke-width="0.3" textLength="13.76" lengthAdjust="spacingAndGlyphs">405</text>
<text x="484.84" y="390.60" font-family="'Liberation Sans', sans-serif" font-size="9.0" font-weight="bold" fill="#141414" stroke="#141414" stroke-width="0.3" textLength="12.90" lengthAdjust="spacingAndGlyphs">nm)</text>
<line x1="336.40" y1="216.60" x2="341.50" y2="216.60" stroke="#707070" stroke-width="0.9"/>
<text x="316.59" y="219.30" font-family="'Liberation Sans', sans-serif" font-size="7.0" font-weight="bold" fill="#141414" stroke="#141414" stroke-width="0.3" textLength="13.68" lengthAdjust="spacingAndGlyphs">BSO</text>
<line x1="487.70" y1="216.60" x2="499.69" y2="216.60" stroke="#444" stroke-width="0.8"/>
<line x1="499.69" y1="214.80" x2="499.69" y2="218.40" stroke="#444" stroke-width="0.9"/>
<rect x="341.50" y="212.90" width="146.20" height="7.4" fill="#000"/>
<line x1="336.40" y1="231.72" x2="341.50" y2="231.72" stroke="#707070" stroke-width="0.9"/>
<text x="306.55" y="234.42" font-family="'Liberation Sans', sans-serif" font-size="7.0" font-weight="bold" fill="#141414" stroke="#141414" stroke-width="0.3" textLength="23.69" lengthAdjust="spacingAndGlyphs">GSH-EE</text>
<line x1="385.07" y1="231.72" x2="388.87" y2="231.72" stroke="#444" stroke-width="0.8"/>
<line x1="388.87" y1="229.92" x2="388.87" y2="233.52" stroke="#444" stroke-width="0.9"/>
<rect x="341.50" y="228.02" width="43.57" height="7.4" fill="#000"/>
<line x1="336.40" y1="246.84" x2="341.50" y2="246.84" stroke="#707070" stroke-width="0.9"/>
<text x="286.81" y="249.54" font-family="'Liberation Sans', sans-serif" font-size="7.0" font-weight="bold" fill="#141414" stroke="#141414" stroke-width="0.3" textLength="43.41" lengthAdjust="spacingAndGlyphs">SOD+Catalase</text>
<line x1="368.11" y1="246.84" x2="371.62" y2="246.84" stroke="#444" stroke-width="0.8"/>
<line x1="371.62" y1="245.04" x2="371.62" y2="248.64" stroke="#444" stroke-width="0.9"/>
<rect x="341.50" y="243.14" width="26.61" height="7.4" fill="#000"/>
<line x1="336.40" y1="261.96" x2="341.50" y2="261.96" stroke="#707070" stroke-width="0.9"/>
<text x="303.64" y="264.66" font-family="'Liberation Sans', sans-serif" font-size="7.0" font-weight="bold" fill="#141414" stroke="#141414" stroke-width="0.3" textLength="26.27" lengthAdjust="spacingAndGlyphs">Catalase</text>
<line x1="384.19" y1="261.96" x2="386.82" y2="261.96" stroke="#444" stroke-width="0.8"/>
<line x1="386.82" y1="260.16" x2="386.82" y2="263.76" stroke="#444" stroke-width="0.9"/>
<rect x="341.50" y="258.26" width="42.69" height="7.4" fill="#000"/>
<line x1="336.40" y1="277.08" x2="341.50" y2="277.08" stroke="#707070" stroke-width="0.9"/>
<text x="316.82" y="279.78" font-family="'Liberation Sans', sans-serif" font-size="7.0" font-weight="bold" fill="#141414" stroke="#141414" stroke-width="0.3" textLength="13.14" lengthAdjust="spacingAndGlyphs">SOD</text>
<line x1="391.79" y1="277.08" x2="397.06" y2="277.08" stroke="#444" stroke-width="0.8"/>
<line x1="397.06" y1="275.28" x2="397.06" y2="278.88" stroke="#444" stroke-width="0.9"/>
<rect x="341.50" y="273.38" width="50.29" height="7.4" fill="#000"/>
<line x1="336.40" y1="292.20" x2="341.50" y2="292.20" stroke="#707070" stroke-width="0.9"/>
<text x="300.74" y="294.90" font-family="'Liberation Sans', sans-serif" font-size="7.0" font-weight="bold" fill="#141414" stroke="#141414" stroke-width="0.3" textLength="21.51" lengthAdjust="spacingAndGlyphs">Vitamin</text>
<text x="325.33" y="294.90" font-family="'Liberation Sans', sans-serif" font-size="7.0" font-weight="bold" fill="#141414" stroke="#141414" stroke-width="0.3" textLength="4.84" lengthAdjust="spacingAndGlyphs">E</text>
<line x1="394.42" y1="292.20" x2="396.18" y2="292.20" stroke="#444" stroke-width="0.8"/>
<line x1="396.18" y1="290.40" x2="396.18" y2="294.00" stroke="#444" stroke-width="0.9"/>
<rect x="341.50" y="288.50" width="52.92" height="7.4" fill="#000"/>
<line x1="336.40" y1="307.32" x2="341.50" y2="307.32" stroke="#707070" stroke-width="0.9"/>
<text x="303.50" y="310.02" font-family="'Liberation Sans', sans-serif" font-size="7.0" font-weight="bold" fill="#141414" stroke="#141414" stroke-width="0.3" textLength="26.65" lengthAdjust="spacingAndGlyphs">Probucol</text>
<line x1="395.89" y1="307.32" x2="402.61" y2="307.32" stroke="#444" stroke-width="0.8"/>
<line x1="402.61" y1="305.52" x2="402.61" y2="309.12" stroke="#444" stroke-width="0.9"/>
<rect x="341.50" y="303.62" width="54.39" height="7.4" fill="#000"/>
<line x1="336.40" y1="322.44" x2="341.50" y2="322.44" stroke="#707070" stroke-width="0.9"/>
<text x="285.82" y="325.14" font-family="'Liberation Sans', sans-serif" font-size="7.0" font-weight="bold" fill="#141414" stroke="#141414" stroke-width="0.3" textLength="8.12" lengthAdjust="spacingAndGlyphs">SS</text>
<text x="297.50" y="325.14" font-family="'Liberation Sans', sans-serif" font-size="7.0" font-weight="bold" fill="#141414" stroke="#141414" stroke-width="0.3" textLength="32.81" lengthAdjust="spacingAndGlyphs">RBC+E-CM</text>
<line x1="438.28" y1="322.44" x2="449.40" y2="322.44" stroke="#444" stroke-width="0.8"/>
<line x1="449.40" y1="320.64" x2="449.40" y2="324.24" stroke="#444" stroke-width="0.9"/>
<rect x="341.50" y="318.74" width="96.78" height="7.4" fill="#000"/>
<line x1="336.40" y1="337.56" x2="341.50" y2="337.56" stroke="#707070" stroke-width="0.9"/>
<text x="305.42" y="340.26" font-family="'Liberation Sans', sans-serif" font-size="7.0" font-weight="bold" fill="#141414" stroke="#141414" stroke-width="0.3" textLength="8.01" lengthAdjust="spacingAndGlyphs">SS</text>
<text x="316.70" y="340.26" font-family="'Liberation Sans', sans-serif" font-size="7.0" font-weight="bold" fill="#141414" stroke="#141414" stroke-width="0.3" textLength="13.36" lengthAdjust="spacingAndGlyphs">RBC</text>
<line x1="392.67" y1="337.56" x2="397.64" y2="337.56" stroke="#444" stroke-width="0.8"/>
<line x1="397.64" y1="335.76" x2="397.64" y2="339.36" stroke="#444" stroke-width="0.9"/>
<rect x="341.50" y="333.86" width="51.17" height="7.4" fill="#000"/>
<line x1="336.40" y1="352.68" x2="341.50" y2="352.68" stroke="#707070" stroke-width="0.9"/>
<text x="314.60" y="355.38" font-family="'Liberation Sans', sans-serif" font-size="7.0" font-weight="bold" fill="#141414" stroke="#141414" stroke-width="0.3" textLength="15.42" lengthAdjust="spacingAndGlyphs">None</text>
<line x1="355.54" y1="352.68" x2="357.29" y2="352.68" stroke="#444" stroke-width="0.8"/>
<line x1="357.29" y1="350.88" x2="357.29" y2="354.48" stroke="#444" stroke-width="0.9"/>
<rect x="341.50" y="348.98" width="14.04" height="7.4" fill="#000"/>
<line x1="282.40" y1="211.00" x2="282.40" y2="308.80" stroke="#555" stroke-width="0.9"/>
<text transform="translate(277.80,290.18) rotate(-90)" font-family="'Liberation Sans', sans-serif" font-size="6.6" font-weight="bold" fill="#141414" stroke="#141414" stroke-width="0.25" textLength="2.66" lengthAdjust="spacingAndGlyphs">+</text>
<text transform="translate(277.80,282.47) rotate(-90)" font-family="'Liberation Sans', sans-serif" font-size="6.6" font-weight="bold" fill="#141414" stroke="#141414" stroke-width="0.25" textLength="7.59" lengthAdjust="spacingAndGlyphs">SS</text>
<text transform="translate(277.80,270.10) rotate(-90)" font-family="'Liberation Sans', sans-serif" font-size="6.6" font-weight="bold" fill="#141414" stroke="#141414" stroke-width="0.25" textLength="13.36" lengthAdjust="spacingAndGlyphs">RBC</text>
<text transform="translate(277.80,253.23) rotate(-90)" font-family="'Liberation Sans', sans-serif" font-size="6.6" font-weight="bold" fill="#141414" stroke="#141414" stroke-width="0.25" textLength="3.35" lengthAdjust="spacingAndGlyphs">+</text>
<text transform="translate(277.80,245.11) rotate(-90)" font-family="'Liberation Sans', sans-serif" font-size="6.6" font-weight="bold" fill="#141414" stroke="#141414" stroke-width="0.25" textLength="16.16" lengthAdjust="spacingAndGlyphs">E-CM</text>
</g>
</svg>
</body></html>
